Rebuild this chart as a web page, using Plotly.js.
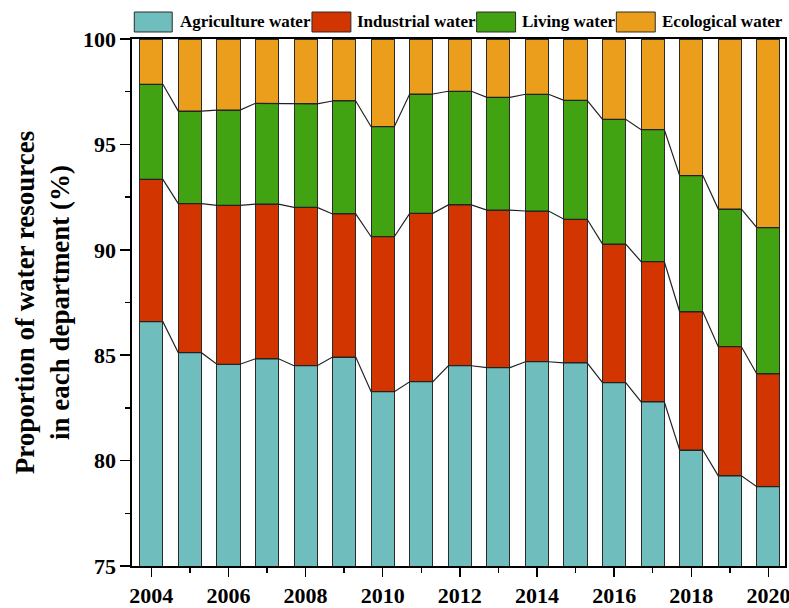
<!DOCTYPE html>
<html>
<head>
<meta charset="utf-8">
<script src="https://cdn.plot.ly/plotly-3.0.1.min.js"></script>
<style>
  html, body { margin: 0; padding: 0; background: #ffffff; }
  #chart { width: 789px; height: 608px; }
</style>
</head>
<body>
<div id="chart"></div>
<script>
const years = [2004, 2005, 2006, 2007, 2008, 2009, 2010, 2011, 2012, 2013, 2014, 2015, 2016, 2017, 2018, 2019, 2020];
const agriculture = [86.59, 85.12, 84.57, 84.83, 84.50, 84.91, 83.27, 83.74, 84.50, 84.41, 84.69, 84.64, 83.70, 82.79, 80.50, 79.28, 78.76];
const industrial  = [6.75, 7.07, 7.54, 7.34, 7.51, 6.79, 7.35, 7.99, 7.63, 7.47, 7.15, 6.81, 6.57, 6.65, 6.56, 6.12, 5.35];
const living      = [4.51, 4.39, 4.52, 4.78, 4.91, 5.36, 5.22, 5.66, 5.39, 5.35, 5.54, 5.64, 5.92, 6.26, 6.46, 6.53, 6.94];
const ecological  = [2.15, 3.42, 3.37, 3.05, 3.08, 2.94, 4.16, 2.61, 2.48, 2.77, 2.62, 2.91, 3.81, 4.30, 6.48, 8.07, 8.95];

const seriesNames = ['Agriculture water', 'Industrial water', 'Living water', 'Ecological water'];
const seriesColors = ['#6FBDBD', '#D33500', '#41A312', '#EA9E1C'];
const seriesValues = [agriculture, industrial, living, ecological];

const FONT = 'Liberation Serif, Times New Roman, serif';
const BAR_W = 0.6;

const traces = [];
seriesValues.forEach((vals, i) => {
  traces.push({
    type: 'bar',
    x: years,
    y: vals,
    name: seriesNames[i],
    width: BAR_W,
    marker: { color: seriesColors[i], line: { color: '#2b2b2b', width: 1 } },
    showlegend: false,
    hoverinfo: 'x+y+name'
  });
});

// connecting lines between the cumulative tops of the stacked segments
let cum = years.map(() => 0);
for (let s = 0; s < 3; s++) {
  cum = cum.map((c, k) => c + seriesValues[s][k]);
  const lx = [], ly = [];
  years.forEach((yr, k) => {
    lx.push(yr - BAR_W / 2, yr + BAR_W / 2);
    ly.push(cum[k], cum[k]);
  });
  traces.push({
    type: 'scatter', mode: 'lines', x: lx, y: ly,
    line: { color: '#222222', width: 1.2 },
    showlegend: false, hoverinfo: 'skip'
  });
}

// custom legend (boxes + labels) above the plot
const legendBoxes = [[0.0035, 0.0616], [0.2756, 0.3352], [0.5278, 0.5874], [0.7417, 0.8013]];
const legendTextX = [0.0700, 0.3420, 0.5942, 0.8082];
const shapes = [], annotations = [];
seriesNames.forEach((nm, i) => {
  shapes.push({
    type: 'rect', xref: 'paper', yref: 'paper',
    x0: legendBoxes[i][0], x1: legendBoxes[i][1], y0: 1.0133, y1: 1.0512,
    fillcolor: seriesColors[i], line: { color: '#2b2b2b', width: 1 }
  });
  annotations.push({
    xref: 'paper', yref: 'paper', x: legendTextX[i], y: 1.0323,
    xanchor: 'left', yanchor: 'middle', showarrow: false,
    text: '<b>' + nm + '</b>', font: { family: FONT, size: 17, color: '#000' }
  });
});

const layout = {
  width: 789, height: 608,
  margin: { l: 132, r: 4, t: 39, b: 42 },
  paper_bgcolor: '#ffffff', plot_bgcolor: '#ffffff',
  barmode: 'stack',
  showlegend: false,
  xaxis: {
    range: [2003.5, 2020.43],
    tickmode: 'linear', tick0: 2004, dtick: 2,
    ticks: 'outside', ticklen: 9, tickwidth: 1.5, tickcolor: '#000',
    minor: { dtick: 1, tick0: 2004, ticks: 'outside', ticklen: 5, tickwidth: 1.5, tickcolor: '#000' },
    showgrid: false, zeroline: false,
    showline: true, linecolor: '#000', linewidth: 1.6, mirror: true,
    ticklabeloverflow: 'allow',
    tickfont: { family: FONT, size: 22, color: '#000', weight: 'bold' }
  },
  yaxis: {
    range: [75, 100],
    tickmode: 'linear', tick0: 75, dtick: 5,
    ticks: 'outside', ticklen: 10, tickwidth: 1.5, tickcolor: '#000',
    minor: { dtick: 2.5, tick0: 75, ticks: 'outside', ticklen: 5, tickwidth: 1.5, tickcolor: '#000' },
    showgrid: false, zeroline: false,
    showline: true, linecolor: '#000', linewidth: 1.6, mirror: true,
    tickfont: { family: FONT, size: 22, color: '#000', weight: 'bold' },
    title: {
      text: '<b>Proportion of water resources<br>in each department (%)</b>',
      font: { family: FONT, size: 27, color: '#000' },
      standoff: 5
    }
  },
  shapes: shapes,
  annotations: annotations
};

Plotly.newPlot('chart', traces, layout, { displayModeBar: false, staticPlot: true });
</script>
</body>
</html>
